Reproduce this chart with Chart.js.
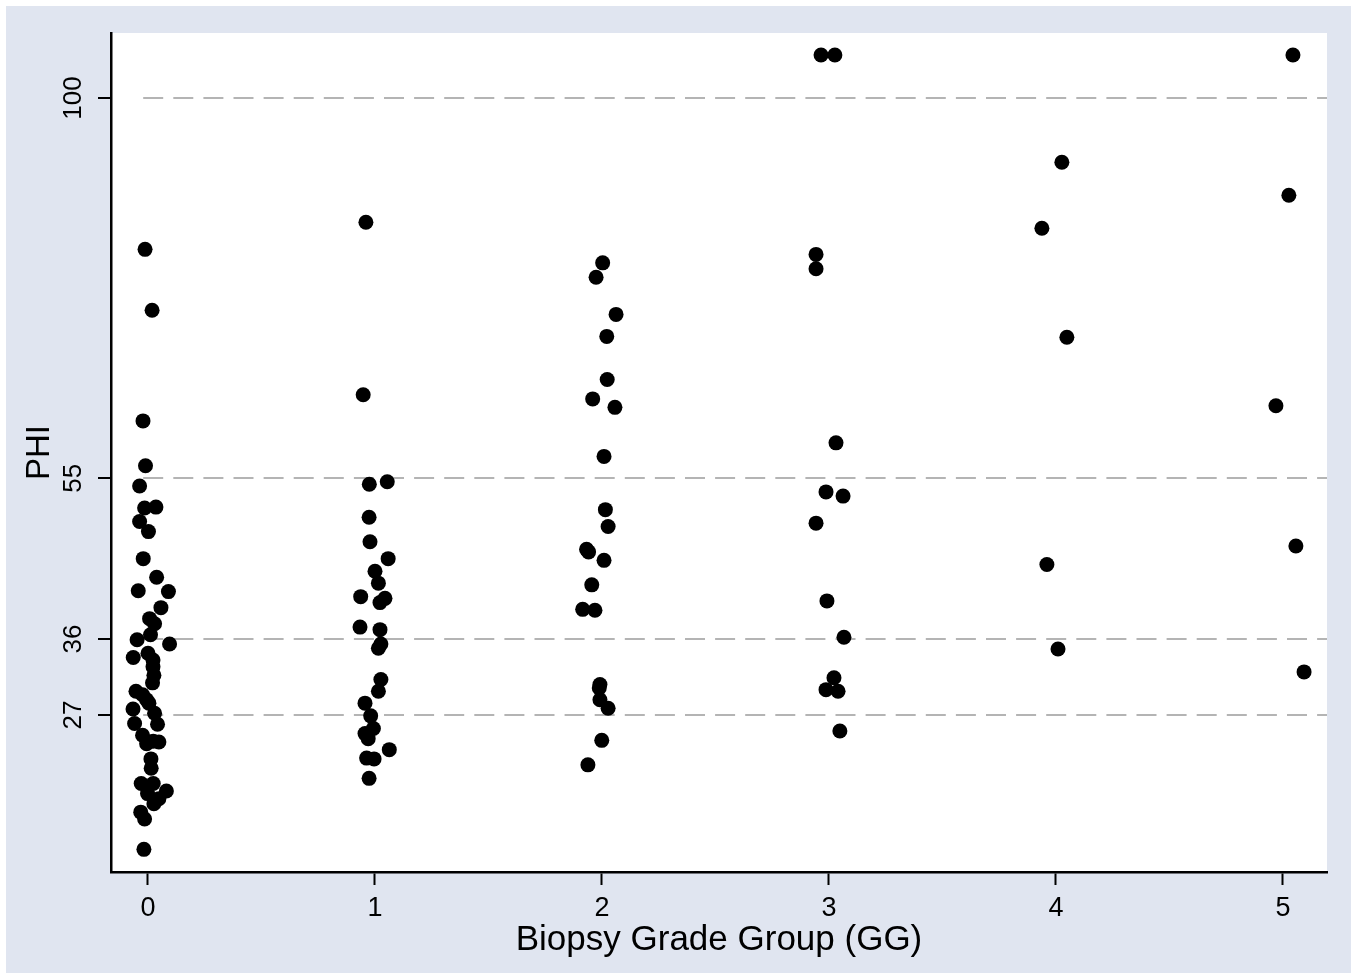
<!DOCTYPE html>
<html>
<head>
<meta charset="utf-8">
<title>PHI por Biopsy Grade Group</title>
<script src="https://cdn.jsdelivr.net/npm/chart.js@4.4.1/dist/chart.umd.min.js"></script>
<style>
  html, body { margin: 0; padding: 0; background: #fff; }
  canvas { display: block; }
</style>
</head>
<body>
<canvas id="phiChart" width="1357" height="979"></canvas>
<script>
// Eixos
const grades = [0, 1, 2, 3, 4, 5];
const yTicks = [27, 36, 55, 100];

// Valores de PHI por grupo e deslocamento horizontal (jitter)
const phiGG0 = [82.1, 74.9, 61.8, 56.5, 54.1, 51.5, 51.6, 49.9, 48.7, 45.5, 43.3, 41.7, 41.6, 39.7, 38.4, 37.8,
  36.5, 35.9, 35.4, 33.8, 34.3, 33.5, 32.7, 31.7, 30.8, 29.8, 29.4, 28.8, 28.4, 27.7, 27.2, 26.0,
  25.9, 24.6, 23.6, 23.9, 23.8, 21.8, 20.7, 18.9, 18.9, 17.7, 18.0, 17.1, 16.5, 15.5, 14.7, 11.1];
const jitGG0 = [-0.013, 0.018, -0.022, -0.011, -0.037, -0.015, 0.035, -0.037, 0.002, -0.021, 0.038, -0.043, 0.090, 0.057, 0.007, 0.029,
  0.011, -0.048, 0.095, -0.065, 0.000, 0.022, 0.022, 0.026, 0.020, -0.053, -0.024, -0.006, 0.004, -0.066, 0.029, -0.059,
  0.042, -0.024, -0.006, 0.023, 0.048, 0.013, 0.014, -0.030, 0.023, -0.002, 0.081, 0.048, 0.026, -0.032, -0.015, -0.018];

const phiGG1 = [85.3, 64.9, 54.3, 54.6, 50.4, 47.5, 45.5, 44.0, 42.6, 41.0, 40.8, 40.3, 37.4, 37.1,
  35.4, 34.9, 31.2, 29.8, 28.4, 26.9, 25.4, 24.8, 24.2, 22.9, 21.9, 21.8, 19.5];
const jitGG1 = [-0.040, -0.052, -0.025, 0.054, -0.026, -0.022, 0.058, 0.000, 0.015, -0.063, 0.044, 0.022, -0.066, 0.022,
  0.026, 0.015, 0.026, 0.015, -0.044, -0.019, -0.007, -0.044, -0.030, 0.063, -0.037, -0.004, -0.026];

const phiGG2 = [80.5, 78.8, 74.4, 71.8, 66.7, 64.4, 63.4, 57.6, 51.3, 49.3, 46.6, 46.3, 45.3, 42.4, 39.5, 39.4,
  30.6, 30.2, 28.8, 27.8, 24.0, 21.1];
const jitGG2 = [0.003, -0.026, 0.062, 0.021, 0.023, -0.041, 0.057, 0.009, 0.015, 0.027, -0.068, -0.059, 0.009, -0.045, -0.085, -0.031,
  -0.009, -0.012, -0.009, 0.027, -0.001, -0.062];

const phiGG3 = [105.1, 105.1, 81.5, 79.8, 59.2, 53.4, 52.9, 49.7, 40.5, 36.2, 31.4, 30.0, 29.8, 25.1];
const jitGG3 = [-0.035, 0.026, -0.057, -0.057, 0.031, -0.013, 0.062, -0.057, -0.009, 0.066, 0.022, -0.013, 0.040, 0.048];

const phiGG4 = [92.4, 84.6, 71.7, 44.8, 34.8];
const jitGG4 = [0.026, -0.062, 0.048, -0.040, 0.009];

const phiGG5 = [105.1, 88.5, 63.6, 47.0, 32.1];
const jitGG5 = [0.044, 0.026, -0.031, 0.057, 0.093];

const phiByGrade = [phiGG0, phiGG1, phiGG2, phiGG3, phiGG4, phiGG5];
const jitByGrade = [jitGG0, jitGG1, jitGG2, jitGG3, jitGG4, jitGG5];

// Monta os pontos {x, y}
const points = [];
grades.forEach((g, i) => {
  phiByGrade[i].forEach((v, j) => {
    points.push({ x: g + jitByGrade[i][j], y: v });
  });
});

const FONT = '"Liberation Sans", Arial, Helvetica, sans-serif';

// Tracejado das linhas de grade: começa com um espaço junto ao eixo
const gridDash = [0, 30.7];
for (let k = 0; k < 45; k++) gridDash.push(20, 10.1);

// Fundo estilo Stata
const bgPlugin = {
  id: 'stataBg',
  beforeDraw(chart) {
    const { ctx, width, height, chartArea: a } = chart;
    ctx.save();
    ctx.fillStyle = '#ffffff';
    ctx.fillRect(0, 0, width, height);
    ctx.fillStyle = '#e0e5f0';
    ctx.fillRect(6, 6, width - 12, height - 12);
    ctx.fillStyle = '#ffffff';
    ctx.fillRect(a.left, a.top, a.right - a.left, a.bottom - a.top);
    ctx.restore();
  }
};

const ctx = document.getElementById('phiChart').getContext('2d');
const chart = new Chart(ctx, {
  type: 'scatter',
  data: {
    datasets: [{
      label: 'PHI',
      data: points,
      pointRadius: 7.5,
      pointBackgroundColor: '#000000',
      pointBorderWidth: 0,
      clip: false
    }]
  },
  plugins: [bgPlugin],
  options: {
    responsive: false,
    animation: false,
    events: [],
    layout: { padding: { top: 33, right: 30, left: 0, bottom: 0 } },
    plugins: {
      legend: { display: false },
      tooltip: { enabled: false }
    },
    scales: {
      x: {
        type: 'linear',
        min: -0.163,
        max: 5.194,
        afterBuildTicks: s => { s.ticks = grades.map(v => ({ value: v })); },
        afterFit: s => { s.height = 107; },
        grid: { drawOnChartArea: false, tickLength: 13, tickWidth: 2, tickColor: '#000' },
        border: { color: '#000', width: 2.5 },
        ticks: { color: '#000', font: { family: FONT, size: 27 }, padding: 7, maxRotation: 0 },
        title: {
          display: true,
          text: 'Biopsy Grade Group (GG)',
          color: '#000',
          font: { family: FONT, size: 35 },
          padding: { top: 0, bottom: 18 }
        }
      },
      y: {
        type: 'linear',
        min: 8.42,
        max: 107.7,
        afterBuildTicks: s => { s.ticks = yTicks.map(v => ({ value: v })); },
        afterFit: s => { s.width = 111; },
        grid: { color: '#b4b4b4', lineWidth: 2, tickLength: 13, tickWidth: 2, tickColor: '#000' },
        border: { color: '#000', width: 2.5, dash: gridDash, dashOffset: 0 },
        ticks: {
          color: '#000',
          font: { family: FONT, size: 26 },
          minRotation: 90,
          maxRotation: 90,
          crossAlign: 'center',
          padding: 2
        },
        title: {
          display: true,
          text: 'PHI',
          color: '#000',
          font: { family: FONT, size: 33 },
          padding: { top: 20, bottom: 0 }
        }
      }
    }
  }
});
</script>
</body>
</html>
